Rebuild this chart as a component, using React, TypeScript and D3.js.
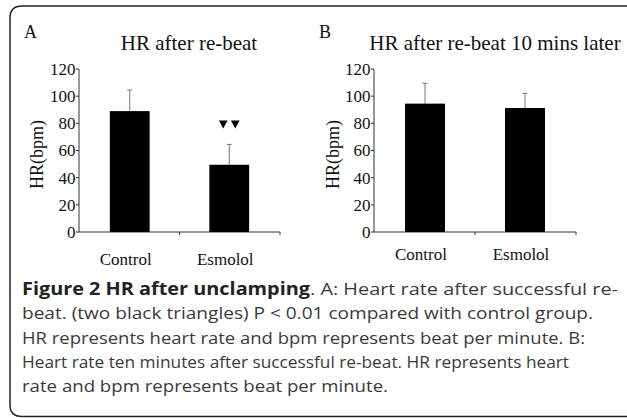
import React from "react";
import * as d3 from "d3";

const categories = ["Control", "Esmolol"];
const meansA = [89, 49.5];
const errorsA = [15.5, 15];
const meansB = [94.5, 91.3];
const errorsB = [15, 10.7];
const yTicks = [0, 20, 40, 60, 80, 100, 120];
const titleA = "HR after re-beat";
const titleB = "HR after re-beat 10 mins later";
const yLabel = "HR(bpm)";
const captionBold = "Figure 2 HR after unclamping";
const captionLines = [
  ". A: Heart rate after successful re-",
  "beat. (two black triangles) P < 0.01 compared with control group.",
  "HR represents heart rate and bpm represents beat per minute. B:",
  "Heart rate ten minutes after successful re-beat. HR represents heart",
  "rate and bpm represents beat per minute.",
];
// approximate right ends of each caption line in the reference
const captionEnds = [618, 593, 585, 569, 388];
const captionBoldEnd = 310;

const W = 627;
const H = 418;
const SERIF = "'Liberation Serif', 'Times New Roman', serif";
const SANS = "'Open Sans', 'Noto Sans', sans-serif";

type PanelProps = {
  x0: number;
  x1: number;
  letter: string;
  title: string;
  titleX: number;
  means: number[];
  errors: number[];
  yLabelX: number;
  xLabelY: number;
  marker?: boolean;
};

function Panel({ x0, x1, letter, title, titleX, means, errors, yLabelX, xLabelY, marker }: PanelProps) {
  const y = d3.scaleLinear().domain([0, 120]).range([232, 69]);
  const x = d3.scaleBand<string>().domain(categories).range([x0, x1]).paddingInner(0.6).paddingOuter(0.31);
  const bw = x.bandwidth();
  return (
    <g>
      <text x={x0 - 55} y={38} fontFamily={SERIF} fontSize={18} fill="#111">{letter}</text>
      <text x={titleX} y={50} fontFamily={SERIF} fontSize={21} fill="#111" textAnchor="middle">{title}</text>
      <line x1={x0} x2={x0} y1={y(120)} y2={y(0)} stroke="#333" strokeWidth={1} />
      {yTicks.map((t) => (
        <g key={t}>
          <line x1={x0 - 3} x2={x0} y1={y(t)} y2={y(t)} stroke="#333" strokeWidth={1} />
          <text x={x0 - 3.5} y={y(t)} dy="0.35em" textAnchor="end" fontFamily={SERIF} fontSize={17} fill="#111">{t}</text>
        </g>
      ))}
      <text
        transform={`translate(${yLabelX},${(y(0) + y(120)) / 2 + 4}) rotate(-90)`}
        textAnchor="middle"
        fontFamily={SERIF}
        fontSize={18}
        fill="#111"
      >{yLabel}</text>
      <line x1={x0} x2={x1} y1={y(0)} y2={y(0)} stroke="#333" strokeWidth={1} />
      {categories.map((c, i) => {
        const tickX = x0 + ((i + 1) * (x1 - x0)) / categories.length;
        return <line key={"t" + c} x1={tickX} x2={tickX} y1={y(0)} y2={y(0) + 3} stroke="#333" strokeWidth={1} />;
      })}
      {categories.map((c, i) => {
        const cx = (x(c) as number) + bw / 2;
        return (
          <g key={c}>
            <line x1={cx} x2={cx} y1={y(means[i])} y2={y(means[i] + errors[i])} stroke="#777" strokeWidth={1} />
            <line x1={cx - 2.5} x2={cx + 2.5} y1={y(means[i] + errors[i])} y2={y(means[i] + errors[i])} stroke="#777" strokeWidth={1} />
            <rect x={x(c)} y={y(means[i])} width={bw} height={y(0) - y(means[i])} fill="#000" />
            <text x={cx - 4} y={xLabelY} textAnchor="middle" fontFamily={SERIF} fontSize={17} fill="#111">{c}</text>
            {marker && i === 1 ? (
              <g>
                {[-6, 6].map((dx) => {
                  const ty = y(means[i] + errors[i]) - 16;
                  const tx = cx + dx;
                  return <path key={dx} d={`M${tx - 4.3},${ty - 8} L${tx + 4.3},${ty - 8} L${tx},${ty} Z`} fill="#000" />;
                })}
              </g>
            ) : null}
          </g>
        );
      })}
    </g>
  );
}

export default function App() {
  const lineH = 24.3;
  const capY = 295;
  const capX = 22;
  return (
    <svg width={W} height={H} style={{ position: "absolute", left: 0, top: 0, background: "#fff" }}>
      <rect x={0} y={0} width={W} height={H} fill="#fff" />
      <path
        d={`M${W + 5},6 L22,6 Q10,6 10,18 L10,405 Q10,416.5 22,416.5 L${W + 5},416.5`}
        fill="none"
        stroke="#222"
        strokeWidth={1.5}
      />
      <Panel x0={79} x1={280} letter="A" title={titleA} titleX={189} means={meansA} errors={errorsA} yLabelX={43} xLabelY={265} marker />
      <Panel x0={374} x1={576} letter="B" title={titleB} titleX={495} means={meansB} errors={errorsB} yLabelX={339} xLabelY={260} />
      <text x={capX} y={capY} fontFamily={SANS} fontSize={17} fill="#222" fontWeight="bold"
        textLength={captionBoldEnd - capX} lengthAdjust="spacingAndGlyphs">{captionBold}</text>
      <text x={captionBoldEnd} y={capY} fontFamily={SANS} fontSize={17} fill="#3a3a3a"
        textLength={captionEnds[0] - captionBoldEnd} lengthAdjust="spacingAndGlyphs">{captionLines[0]}</text>
      {captionLines.slice(1).map((l, i) => (
        <text key={i} x={capX} y={capY + lineH * (i + 1)} fontFamily={SANS} fontSize={17} fill="#3a3a3a"
          textLength={captionEnds[i + 1] - capX} lengthAdjust="spacingAndGlyphs">{l}</text>
      ))}
    </svg>
  );
}
